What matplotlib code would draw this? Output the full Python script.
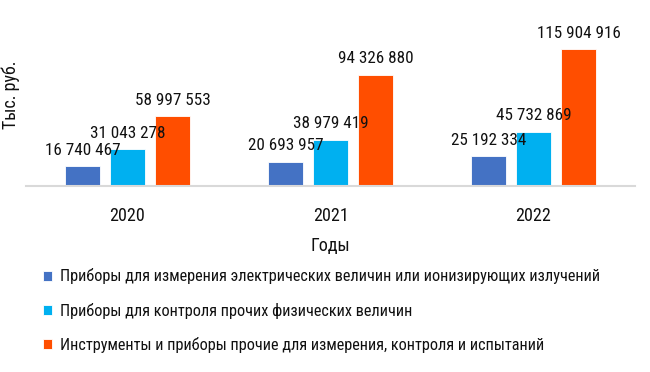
import matplotlib
matplotlib.use("Agg")
import matplotlib.pyplot as plt
import numpy as np

plt.rcParams['font.family'] = ['Roboto Condensed', 'DejaVu Sans']

years = ["2020", "2021", "2022"]
series_names = [
    "Приборы для измерения электрических величин или ионизирующих излучений",
    "Приборы для контроля прочих физических величин",
    "Инструменты и приборы прочие для измерения, контроля и испытаний",
]
electric = [16740467, 20693957, 25192334]
physical = [31043278, 38979419, 45732869]
other = [58997553, 94326880, 115904916]
colors = ["#4472C4", "#00B0F0", "#FF4E00"]

fig = plt.figure(figsize=(6.5, 3.72), dpi=100)
ax = fig.add_axes([26 / 650, 0.5, 609 / 650, 165 / 372])

x = np.arange(len(years))
width = 0.172
step = 0.222
bars = []
for i, (vals, name, c) in enumerate(zip([electric, physical, other], series_names, colors)):
    b = ax.bar(x + (i - 1) * step, vals, width, color=c, label=name,
               edgecolor="white", linewidth=0.6)
    bars.append(b)
    for xi, v in zip(x + (i - 1) * step, vals):
        ax.annotate(f"{v:,}".replace(",", " "), (xi, v), xytext=(0, 8.4),
                    textcoords="offset points", ha="center", va="baseline",
                    fontsize=12.3, color="#111111")

ax.set_xlim(-0.5, 2.5)
ax.set_ylim(0, 140e6)
ax.set_xticks(x)
ax.set_xticklabels(years, fontsize=13, color="#111111")
ax.tick_params(axis="x", length=0, pad=15)
ax.set_yticks([])
for s in ["left", "right", "top"]:
    ax.spines[s].set_visible(False)
ax.spines["bottom"].set_color("#D9D9D9")
ax.spines["bottom"].set_linewidth(1.5)

ax.set_xlabel("Годы", fontsize=13, color="#111111", labelpad=9)
fig.text(11 / 650, 1 - 95 / 372, "Тыс. руб.", rotation=90, ha="center",
         va="center", fontsize=13, color="#111111")

fig.legend(handles=bars, loc="upper left", bbox_to_anchor=(43 / 650, 1 - 268.5 / 372),
           frameon=False, fontsize=11.7, handlelength=0.56, handleheight=0.58,
           handletextpad=0.5, labelspacing=1.12, borderpad=0, borderaxespad=0,
           labelcolor="#111111")

fig.savefig("out.png", dpi=100)
